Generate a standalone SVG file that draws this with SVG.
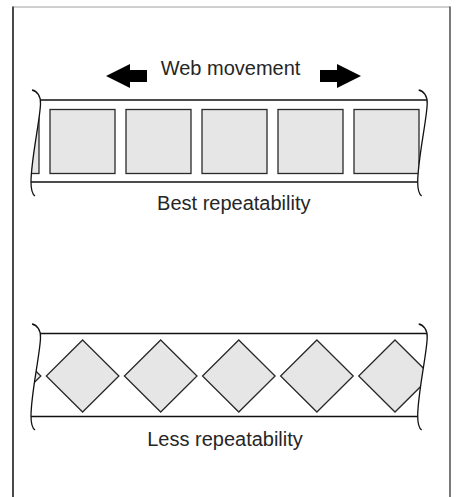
<svg xmlns="http://www.w3.org/2000/svg" width="458" height="497" viewBox="0 0 458 497">
  <style>
    .label { font-family: "Liberation Sans", Arial, sans-serif; font-size: 20px; fill: #262626; text-anchor: middle; }
    .edge { stroke: #111; stroke-width: 1.5; fill: none; }
    .brace { stroke: #111; stroke-width: 1.3; fill: none; }
    .mark { fill: #e6e6e6; stroke: #2a2a2a; stroke-width: 1.3; }
    .arrow { fill: #000; }
  </style>
  <defs>
    <!-- wavy break line at each end of a web strip -->
    <path id="brace" d="M0,0 C5,1 9,6 8.5,14 C8,30 -1,70 -1,92 C-1,99 0,104 3,106"/>
    <!-- area of a strip between its two break lines -->
    <clipPath id="stripClip">
      <path d="M32,0 C37,1 41,6 40.5,14 C40,30 31,70 31,92 C31,99 32,104 35,106 L421.7,106 C418.7,104 417.7,99 417.7,92 C417.7,70 426.7,30 427.2,14 C427.7,6 423.7,1 418.7,0 Z"/>
    </clipPath>
  </defs>

  <rect width="458" height="497" fill="#fff"/>

  <!-- page frame -->
  <g id="frame">
    <line x1="13" y1="7" x2="450" y2="7" stroke="#a0a0a0" stroke-width="1"/>
    <line x1="13" y1="6.5" x2="13" y2="497" stroke="#4a4a4a" stroke-width="2"/>
    <line x1="450" y1="6.5" x2="450" y2="497" stroke="#333" stroke-width="1.3"/>
  </g>

  <!-- direction arrows -->
  <g id="connectors">
    <polygon class="arrow" points="106,76 130,64 130,70 147,70 147,82 130,82 130,88"/>
    <polygon class="arrow" points="361,76 337,64 337,70 320,70 320,82 337,82 337,88"/>
  </g>

  <g id="web-movement">
    <text class="label" x="230.5" y="75">Web movement</text>
  </g>

  <!-- web with square marks -->
  <g id="strip-square" transform="translate(0,90)">
    <g clip-path="url(#stripClip)">
      <rect class="mark" x="-26" y="19.5" width="65" height="64"/>
      <rect class="mark" x="50" y="19.5" width="65" height="64"/>
      <rect class="mark" x="126" y="19.5" width="65" height="64"/>
      <rect class="mark" x="202" y="19.5" width="65" height="64"/>
      <rect class="mark" x="278" y="19.5" width="65" height="64"/>
      <rect class="mark" x="354" y="19.5" width="65" height="64"/>
      <line class="edge" x1="0" y1="10" x2="458" y2="10"/>
      <line class="edge" x1="0" y1="92" x2="458" y2="92"/>
    </g>
    <use href="#brace" class="brace" x="32" y="0"/>
    <use href="#brace" class="brace" x="418.7" y="0"/>
  </g>

  <g id="best-label">
    <text class="label" x="233.8" y="210">Best repeatability</text>
  </g>

  <!-- web with diamond marks -->
  <g id="strip-diamond" transform="translate(0,324)">
    <g clip-path="url(#stripClip)">
      <polygon class="mark" points="4.5,16 40.8,52 4.5,88 -31.8,52"/>
      <polygon class="mark" points="82.6,16 118.9,52 82.6,88 46.3,52"/>
      <polygon class="mark" points="160.7,16 197,52 160.7,88 124.4,52"/>
      <polygon class="mark" points="238.8,16 275.1,52 238.8,88 202.5,52"/>
      <polygon class="mark" points="316.9,16 353.2,52 316.9,88 280.6,52"/>
      <polygon class="mark" points="395,16 431.3,52 395,88 358.7,52"/>
      <line class="edge" x1="0" y1="9.5" x2="458" y2="9.5"/>
      <line class="edge" x1="0" y1="92.5" x2="458" y2="92.5"/>
    </g>
    <use href="#brace" class="brace" x="32" y="0"/>
    <use href="#brace" class="brace" x="418.7" y="0"/>
  </g>

  <g id="less-label">
    <text class="label" x="225" y="446">Less repeatability</text>
  </g>
</svg>
